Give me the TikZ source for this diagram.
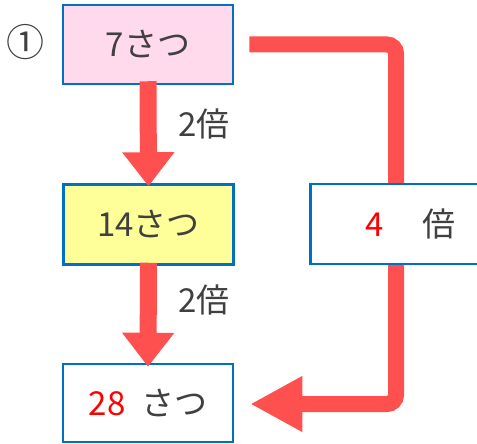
\documentclass[tikz,border=0pt]{standalone}
\usepackage{fontspec}
\setmainfont{Noto Sans CJK JP}
\usetikzlibrary{arrows.meta,backgrounds}
\definecolor{boxblue}{HTML}{0070C0}
\definecolor{arrred}{HTML}{FF5050}
\definecolor{txtgray}{HTML}{404040}
\definecolor{pinkfill}{HTML}{FFD9EC}
\definecolor{yellowfill}{HTML}{FFFF99}
\tikzset{
  valbox/.style={draw=boxblue, line width=2.5pt, minimum width=170pt, minimum height=79pt, inner sep=0pt, text=txtgray, font=\fontsize{33}{38}\selectfont},
  downarrow/.style={draw=arrred, line width=17pt, -{Triangle[length=34pt,width=50pt]}},
  bigarrow/.style={draw=arrred, line width=16pt, rounded corners=9pt, -{Triangle[length=52pt,width=52pt]}},
  lbl/.style={text=txtgray, font=\fontsize{33}{38}\selectfont, inner sep=0pt}
}
\begin{document}
\begin{tikzpicture}[x=1pt,y=-1pt]
\clip (0,0) rectangle (477,444);
\node[valbox, fill=pinkfill] (a) at (148,44.5) {7さつ};
\node[valbox, fill=yellowfill, minimum height=80pt] (b) at (148.5,224.5) {14さつ};
\node[valbox, fill=white, minimum height=78pt] (c) at (148,403) {\textcolor{red}{28}\hspace{16pt}さつ};
\node[valbox, fill=white, minimum height=80pt] (m) at (395.5,224) {\hspace*{30pt}\textcolor{red}{4}\hspace{38pt}倍};
\node[lbl, font=\fontsize{38}{42}\selectfont] (circ) at (25,42.5) {①};
\node[lbl] (l1) at (204,124) {2倍};
\node[lbl] (l2) at (204,300) {2倍};
\coordinate (r1) at (396,44.5);
\coordinate (r2) at (396,404);
\begin{scope}[on background layer]
\draw[bigarrow] ([xshift=15pt]a.east) -- (r1) -- (r2) -- ([xshift=16pt]c.east |- r2);
\end{scope}
\draw[downarrow] ([yshift=4pt]a.south) -- ([yshift=-3pt]b.north);
\draw[downarrow] ([yshift=3pt]b.south) -- ([yshift=-4pt]c.north);
\end{tikzpicture}
\end{document}
